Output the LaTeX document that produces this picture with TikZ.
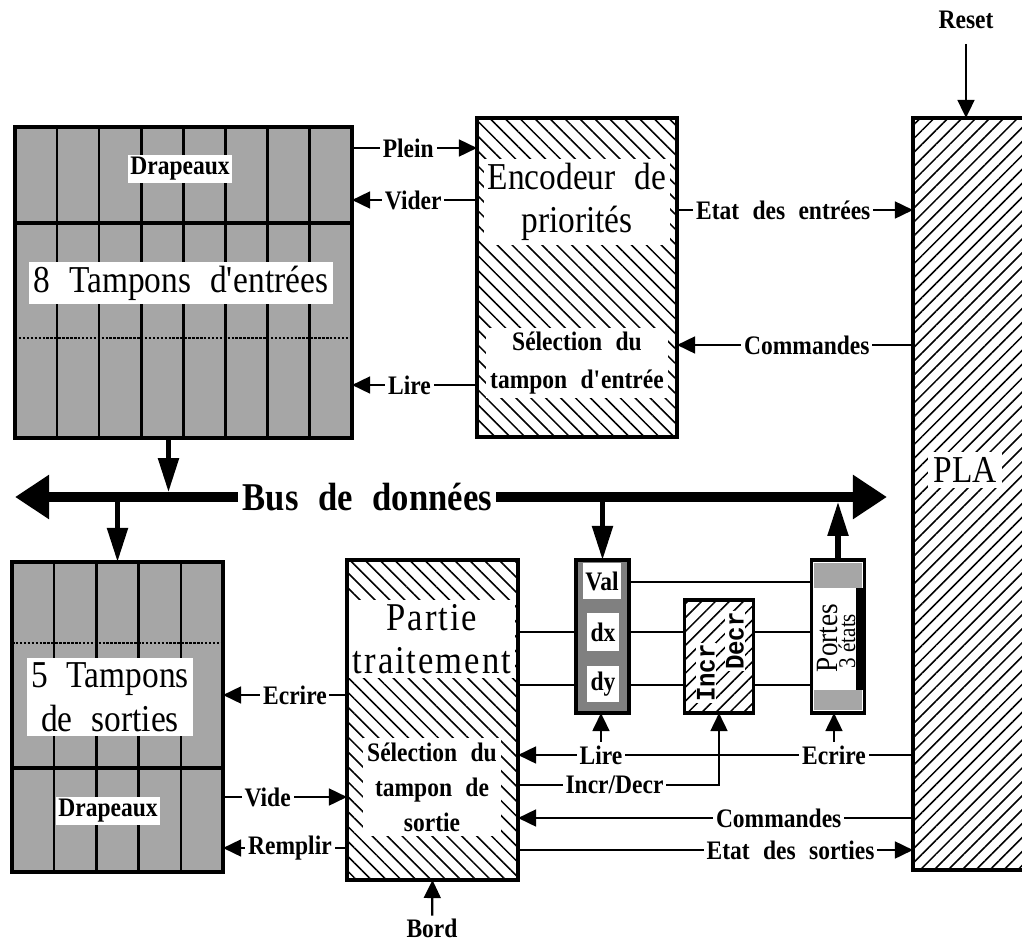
\documentclass[tikz,border=0pt]{standalone}
\usepackage{fontspec}
\setmainfont[FakeStretch=0.88]{Liberation Serif}
\newfontfamily\monofont[FakeStretch=0.9]{Liberation Mono}
\usepackage{tikz}
\usetikzlibrary{arrows.meta,patterns.meta,calc}

\newcommand{\widesp}{\spaceskip=0.5em\relax}

\begin{document}
\begin{tikzpicture}[
  x=0.025cm, y=-0.025cm,
  blk/.style={draw, line width=2.4pt, inner sep=0pt, outer sep=0pt},
  grey/.style={blk, fill=black!35},
  hatchnw/.style={blk, pattern={Lines[angle=-45,distance=7.5pt,line width=1.1pt]}},
  hatchne/.style={blk, pattern={Lines[angle=45,distance=7pt,line width=1.1pt]}},
  lbl/.style={fill=white, font=\bfseries\fontsize{19}{21}\selectfont\widesp, inner sep=2pt},
  big/.style={fill=white, font=\fontsize{27}{31}\selectfont\widesp, align=center, inner sep=3pt},
  sel/.style={fill=white, font=\bfseries\fontsize{19}{25}\selectfont\widesp, align=center, inner sep=3pt},
  vert/.style={rotate=90, fill=white, inner sep=1pt, font=\monofont\bfseries\fontsize{19}{19}\selectfont},
  ln/.style={line width=1.6pt},
  arr/.style={ln, -{Triangle[length=0.45cm,width=0.42cm]}},
  busarr/.style={line width=3.6pt, -{Triangle[length=0.85cm,width=0.5cm]}},
  bus/.style={line width=7pt, {Triangle[length=0.85cm,width=1.05cm]}-{Triangle[length=0.85cm,width=1.05cm]}}
]
\useasboundingbox (0,0) rectangle (1022,941);

\node[grey, minimum width=8.425cm, minimum height=7.775cm] (inbuf) at (183.5,282.5) {};
\foreach \i in {1,...,7}
  \draw[line width=1.8pt] ($(inbuf.north west)+(\i*42.1,0)$) -- ($(inbuf.south west)+(\i*42.1,0)$);
\draw[line width=2.2pt] (inbuf.west|-0,223) -- (inbuf.east|-0,223);
\draw[line width=1.8pt, densely dotted] (inbuf.west|-0,338) -- (inbuf.east|-0,338);
\node[lbl] (drin) at (180,169) {Drapeaux};
\node[big] (tin) at (181,283) {8 Tampons d\textquotesingle entrées};

\node[hatchnw, minimum width=5cm, minimum height=7.975cm] (enc) at (577,277.5) {};
\node[big] (enctxt) at (577,202) {Encodeur de\\priorités};
\node[sel, font=\bfseries\fontsize{19}{27}\selectfont\widesp] (encsel) at (577,363) {Sélection du\\tampon d\textquotesingle entrée};

\node[hatchne, minimum width=3.2cm, minimum height=18.8cm] (pla) at (977,494) {};
\node[big, inner sep=4pt] (platxt) at (965,470) {PLA};

\node[grey, minimum width=5.275cm, minimum height=7.75cm] (outbuf) at (117.5,717) {};
\foreach \i in {1,...,4}
  \draw[line width=1.8pt] ($(outbuf.north west)+(\i*42.2,0)$) -- ($(outbuf.south west)+(\i*42.2,0)$);
\draw[line width=2.2pt] (outbuf.west|-0,768) -- (outbuf.east|-0,768);
\draw[line width=1.8pt, densely dotted] (outbuf.west|-0,643) -- (outbuf.east|-0,643);
\node[big] (tout) at (110,697) {5 Tampons\\de sorties};
\node[lbl] (drout) at (108,811) {Drapeaux};

\node[hatchnw, minimum width=4.275cm, minimum height=8cm] (trait) at (432.5,720) {};
\node[big, font=\fontsize{28}{31}\selectfont\addfontfeature{LetterSpace=5}] (trtxt) at (432,639) {Partie\\traitement};
\node[sel] (trsel) at (432,787) {Sélection du\\tampon de\\sortie};

\node[blk, fill=black!50, minimum width=1.325cm, minimum height=3.825cm] (regs) at (602.5,636.5) {};
\node[lbl, minimum width=0.9cm, minimum height=0.92cm] (val) at (602,581) {Val};
\node[lbl, minimum width=0.8cm, minimum height=0.95cm] (dx) at (603,632) {dx};
\node[lbl, minimum width=0.8cm, minimum height=0.92cm] (dy) at (603,684) {dy};

\node[hatchne, minimum width=1.725cm, minimum height=2.825cm] (incdec) at (719,656.5) {};
\node[vert] (incr) at (706,673) {Incr};
\node[vert] (decr) at (735,641) {Decr};

\node[blk, fill=white, minimum width=1.325cm, minimum height=3.825cm] (portes) at (838,636.5) {};
\fill[black!35] ($(portes.north west)+(3,3)$) rectangle ($(portes.north east)+(-3,28)$);
\fill[black!35] ($(portes.south west)+(3,-23)$) rectangle ($(portes.south east)+(-3,-3)$);
\fill ($(portes.north east)+(-9,28)$) rectangle ($(portes.south east)+(-2,-23)$);
\node[rotate=90, font=\fontsize{22}{22}\selectfont] (ptxt) at (828,638) {Portes};
\node[rotate=90, font=\fontsize{17}{17}\selectfont] (etxt) at (847,641) {3 états};

\coordinate (busw) at (15,497);
\coordinate (buse) at (887,497);
\draw[bus] (busw) -- node[pos=0.404, fill=white, inner sep=3pt, font=\bfseries\fontsize{28}{28}\selectfont\widesp] (buslbl) {Bus de données} (buse);
\coordinate (intap) at ([xshift=-0.375cm]inbuf.south);
\draw[busarr, shorten >=0.12cm] (intap) -- (intap|-busw);
\draw[busarr] (outbuf.north|-busw) -- (outbuf.north);
\draw[busarr] (regs.north|-busw) -- (regs.north);
\draw[busarr, shorten >=0.12cm] (portes.north) -- (portes.north|-busw);

\draw[arr] (inbuf.east|-0,148) -- node[lbl,pos=0.45]{Plein} (enc.west|-0,148);
\draw[arr] (enc.west|-0,200) -- node[lbl,pos=0.51]{Vider} (inbuf.east|-0,200);
\draw[arr] (enc.west|-0,385) -- node[lbl,pos=0.54]{Lire} (inbuf.east|-0,385);
\draw[arr] (enc.east|-0,210) -- node[lbl,pos=0.45]{Etat des entrées} (pla.west|-0,210);
\draw[arr] (pla.west|-0,345) -- node[lbl,pos=0.45]{Commandes} (enc.east|-0,345);

\draw[arr] (trait.west|-0,695) -- node[lbl,pos=0.42]{Ecrire} (outbuf.east|-0,695);
\draw[arr] (outbuf.east|-0,797) -- node[lbl,pos=0.36]{Vide} (trait.west|-0,797);
\draw[arr] (trait.west|-0,848) -- node[lbl,pos=0.46]{Remplir} (outbuf.east|-0,848);

\draw[ln] (regs.east|-0,582) -- (portes.west|-0,582);
\foreach \yy in {632,685} {
  \draw[ln] (trait.east|-0,\yy) -- (regs.west|-0,\yy);
  \draw[ln] (regs.east|-0,\yy) -- (incdec.west|-0,\yy);
  \draw[ln] (incdec.east|-0,\yy) -- (portes.west|-0,\yy);
}

\draw[arr] (pla.west|-0,755) -- node[lbl,pos=0.2] (ecr) {Ecrire} node[lbl,pos=0.79] (lrd) {Lire} (trait.east|-0,755);
\draw[arr] (lrd.north) -- (lrd.north|-regs.south);
\draw[arr] (ecr.north) -- (ecr.north|-portes.south);
\draw[arr] (trait.east|-0,785) -- node[lbl,pos=0.48]{Incr/Decr} (incdec.south|-0,785) -- (incdec.south);
\draw[arr] (pla.west|-0,818) -- node[lbl,pos=0.34]{Commandes} (trait.east|-0,818);
\draw[arr] (trait.east|-0,850) -- node[lbl,pos=0.69]{Etat des sorties} (pla.west|-0,850);

\node[lbl] (bord) at (432,928) {Bord};
\draw[arr] (bord) -- (trait.south);
\node[lbl] (reset) at (966,20) {Reset};
\draw[arr, shorten <=0.3cm] (reset.south) -- (reset.south|-pla.north);
\end{tikzpicture}
\end{document}
